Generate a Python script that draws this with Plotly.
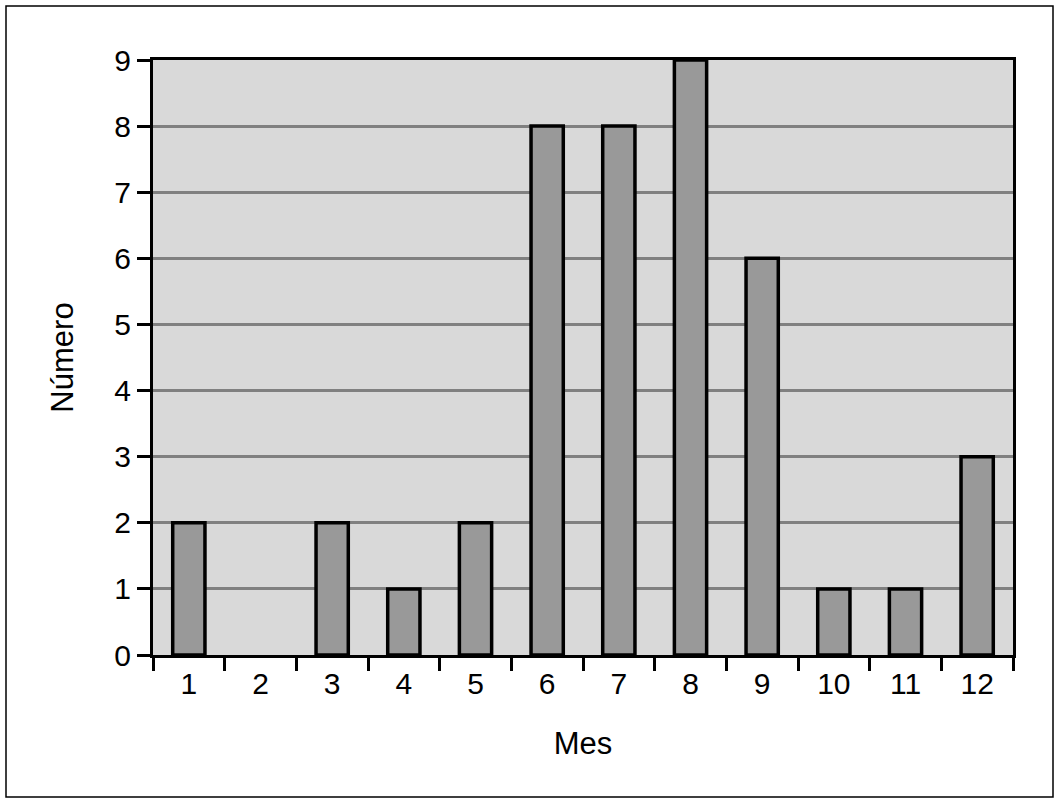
import plotly.graph_objects as go

months = ["1", "2", "3", "4", "5", "6", "7", "8", "9", "10", "11", "12"]
counts = [2, 0, 2, 1, 2, 8, 8, 9, 6, 1, 1, 3]
y_ticks = [0, 1, 2, 3, 4, 5, 6, 7, 8, 9]

FONT = "Liberation Sans, Arial, Helvetica, sans-serif"

fig = go.Figure()
fig.add_trace(go.Bar(
    x=months, y=counts, width=0.45,
    marker=dict(color="#999999",
                line=dict(color="black", width=[3.5 if c > 0 else 0 for c in counts])),
))

FW, FH = 1060, 803
L, T = 153, 60
R = FW - 1013
B = FH - 655
W = FW - L - R
H = FH - T - B

fig.update_layout(
    width=FW, height=FH,
    margin=dict(l=L, r=R, t=T, b=B, autoexpand=False),
    paper_bgcolor="white",
    plot_bgcolor="#d9d9d9",
    showlegend=False,
    font=dict(family=FONT, color="black", size=30),
    xaxis=dict(
        type="category", range=[-0.5, 11.5],
        tickson="boundaries", ticks="outside", ticklen=13, tickwidth=3, tickcolor="black",
        showline=True, linecolor="black", linewidth=3, mirror=True,
        showgrid=False, zeroline=False, automargin=False,
        tickfont=dict(size=30),
        title=dict(text="Mes", font=dict(size=31), standoff=34),
    ),
    yaxis=dict(
        range=[0, 9], tickvals=y_ticks,
        ticks="outside", ticklen=13, tickwidth=3, tickcolor="black",
        showline=True, linecolor="black", linewidth=3, mirror=True,
        showgrid=True, gridcolor="#808080", gridwidth=3,
        zeroline=False, automargin=False,
        tickfont=dict(size=30),
        title=dict(text="Número", font=dict(size=31), standoff=32),
    ),
    shapes=[dict(
        type="rect", xref="paper", yref="paper",
        x0=(6 - L) / W, x1=(1053 - L) / W,
        y0=-(797 - 655) / H, y1=(655 - 6) / H,
        line=dict(color="black", width=1.5), fillcolor="rgba(0,0,0,0)",
        layer="below",
    )],
)

fig.write_html(
    "out.html",
    config={"displayModeBar": False, "staticPlot": True},
    post_script="document.body.style.margin='0';document.body.style.overflow='hidden';",
)
